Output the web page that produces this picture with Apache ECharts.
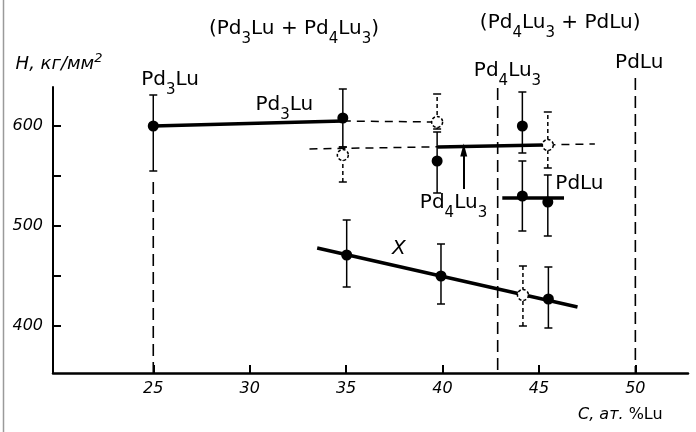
<!DOCTYPE html>
<html><head><meta charset="utf-8">
<script src="https://cdn.jsdelivr.net/npm/echarts@6/dist/echarts.min.js"></script>
<style>html,body{margin:0;padding:0;background:#fff}#c{width:696px;height:432px}</style>
</head><body><div id="c"></div>
<script>
const FONT = 'DejaVu Sans';
// axis ticks
const xTicks = [25, 30, 35, 40, 45, 50];
const yTicks = [400, 450, 500, 550, 600];
const yLabels = [400, 500, 600];

// filled points (Pd3Lu, Pd4Lu3, PdLu region)
const solidX = [25, 34.83, 39.72, 44.14, 44.14, 45.46];
const solidY = [600, 608, 565, 600, 530, 524];
const solidLow = [555, 579, 533, 573, 495, 490];
const solidHigh = [631, 637, 594, 634, 565, 551];
// X phase filled points
const chiX = [35.03, 39.92, 45.49];
const chiY = [471, 450, 427];
const chiLow = [439, 422, 398];
const chiHigh = [506, 482, 459];
// open (dashed) points
const openX = [34.83, 39.72, 45.46, 44.17];
const openY = [571, 604, 581, 431];
const openLow = [544, 597, 558, 400];
const openHigh = [579, 632, 614, 460];

// fitted lines
const pd3luLine = [[25, 600], [34.83, 605]];
const pd4lu3Line = [[39.75, 579], [45.2, 581]];
const pdluLine = [[43.1, 528], [46.3, 528]];
const chiLine = [[33.5, 478], [47.0, 419]];
const dashedUpper = [[34.83, 605], [39.72, 604]];
const dashedLower = [[33.1, 577], [47.9, 582]];
// phase boundaries (composition, top of dashed line)
const phaseX = [25, 42.86, 50];
const phaseTop = [544, 638, 648];
const phaseBottom = 353;
// arrow
const arrowX = 41.1, arrowFrom = 537, arrowTo = 576;

// annotations
const labelText = [
  '(Pd{s|3}Lu + Pd{s|4}Lu{s|3})',
  '(Pd{s|4}Lu{s|3} + PdLu)',
  'Pd{s|3}Lu',
  'Pd{s|3}Lu',
  'Pd{s|4}Lu{s|3}',
  'PdLu',
  'Pd{s|4}Lu{s|3}',
  'PdLu',
  '{i|X}'
];
const labelX = [32.3, 46.1, 25.87, 31.8, 43.37, 50.2, 40.57, 47.1, 37.74];
const labelY = [697, 703, 646, 621, 655, 663, 523, 542, 477];

const rich = {
  s: {fontFamily: FONT, fontSize: 15, color: '#000', padding: [20, 0, 0, 0], lineHeight: 15},
  i: {fontFamily: FONT, fontSize: 20, fontStyle: 'italic', color: '#000'}
};

function zip(a, b) { return a.map((v, i) => [v, b[i]]); }
function zip3(a, b, c) { return a.map((v, i) => [v, b[i], c[i]]); }

function errRender(dashed) {
  return function (params, api) {
    const x = api.value(0), lo = api.value(1), hi = api.value(2);
    const pLo = api.coord([x, lo]), pHi = api.coord([x, hi]);
    const hw = 4;
    const st = {stroke: '#000', lineWidth: 1.5, fill: null, lineDash: dashed ? [4, 3] : null};
    const cap = {stroke: '#000', lineWidth: 1.5, fill: null};
    return {type: 'group', children: [
      {type: 'line', shape: {x1: pLo[0], y1: pLo[1], x2: pHi[0], y2: pHi[1]}, style: st},
      {type: 'line', shape: {x1: pLo[0] - hw, y1: pLo[1], x2: pLo[0] + hw, y2: pLo[1]}, style: cap},
      {type: 'line', shape: {x1: pHi[0] - hw, y1: pHi[1], x2: pHi[0] + hw, y2: pHi[1]}, style: cap}
    ]};
  };
}

function lineSeries(data, width, dash, z, clip) {
  return {type: 'line', data: data, symbol: 'none', showSymbol: false, silent: true,
    clip: clip !== false, z: z,
    lineStyle: {color: '#000', width: width, type: dash || 'solid'}};
}

const series = [];
// phase boundary dashed lines
phaseX.forEach((px, i) => {
  series.push(lineSeries([[px, phaseTop[i]], [px, phaseBottom]], 1.6, [12, 6], 1, false));
});
series.push(lineSeries(dashedUpper, 1.5, [8, 6], 2));
series.push(lineSeries(dashedLower, 1.5, [8, 6], 2));
series.push(lineSeries(pd3luLine, 3.5, null, 3));
series.push(lineSeries(pd4lu3Line, 3.5, null, 3));
series.push(lineSeries(pdluLine, 3.5, null, 3));
series.push(lineSeries(chiLine, 3.5, null, 3));
// error bars
series.push({type: 'custom', renderItem: errRender(true), data: zip3(openX, openLow, openHigh), z: 4, silent: true, encode: {x: 0, y: [1, 2]}});
series.push({type: 'custom', renderItem: errRender(false), data: zip3(solidX.concat(chiX), solidLow.concat(chiLow), solidHigh.concat(chiHigh)), z: 5, silent: true, encode: {x: 0, y: [1, 2]}});
// open points
series.push({type: 'scatter', data: zip(openX, openY), symbol: 'circle', symbolSize: 11, z: 6, silent: true,
  itemStyle: {color: '#fff', opacity: 1, borderColor: '#000', borderWidth: 1.5, borderType: [3, 2]}});
// filled points
series.push({type: 'scatter', data: zip(solidX.concat(chiX), solidY.concat(chiY)), symbol: 'circle', symbolSize: 11, z: 7, silent: true,
  itemStyle: {color: '#000', opacity: 1}});
// arrow
series.push({type: 'line', data: [], silent: true, z: 7,
  markLine: {silent: true, symbol: ['none', 'triangle'], symbolSize: [7, 13], label: {show: false},
    lineStyle: {color: '#000', width: 2, type: 'solid', opacity: 1},
    data: [[{coord: [arrowX, arrowFrom]}, {coord: [arrowX, arrowTo]}]]}});
// annotations
series.push({type: 'scatter', symbolSize: 1, clip: false, silent: true, z: 8,
  itemStyle: {color: 'rgba(255,255,255,0)', opacity: 1},
  data: labelText.map((t, i) => ({value: [labelX[i], labelY[i]], name: t})),
  label: {show: true, position: 'inside', formatter: p => p.name, opacity: 1,
    fontFamily: FONT, fontSize: 20, color: '#000', rich: rich}});

const chart = echarts.init(document.getElementById('c'), null, {renderer: 'canvas'});
chart.setOption({
  animation: false,
  backgroundColor: '#fff',
  grid: {left: 53, right: 8, top: 87, bottom: 59, containLabel: false, outerBoundsMode: 'none'},
  xAxis: {
    type: 'value', min: 19.8, max: 52.73,
    name: '{i|C, ат.} %Lu', nameLocation: 'end', nameGap: -110,
    nameTextStyle: {fontFamily: FONT, fontSize: 16, color: '#000', padding: [84, 0, 0, 0],
      rich: {i: {fontFamily: FONT, fontSize: 16, fontStyle: 'italic', color: '#000'}}},
    axisLine: {show: true, lineStyle: {color: '#000', width: 2.5}},
    axisTick: {show: true, inside: true, length: 8, customValues: xTicks, lineStyle: {color: '#000', width: 2}},
    axisLabel: {customValues: xTicks, fontFamily: FONT, fontStyle: 'italic', fontSize: 16, color: '#000', margin: 8},
    splitLine: {show: false}
  },
  yAxis: {
    type: 'value', min: 353, max: 639,
    name: 'H, кг/мм{p|2}', nameLocation: 'end', nameGap: 10,
    nameTextStyle: {fontFamily: FONT, fontSize: 18, fontStyle: 'italic', color: '#000', padding: [0, 0, 0, 12],
      rich: {p: {fontFamily: FONT, fontSize: 13, fontStyle: 'italic', color: '#000', padding: [0, 0, 12, 0]}}},
    axisLine: {show: true, lineStyle: {color: '#000', width: 2}},
    axisTick: {show: true, inside: true, length: 8, customValues: yTicks, lineStyle: {color: '#000', width: 2}},
    axisLabel: {customValues: yLabels, fontFamily: FONT, fontStyle: 'italic', fontSize: 16, color: '#000', margin: 10},
    splitLine: {show: false}
  },
  graphic: [{type: 'line', shape: {x1: 3.5, y1: 0, x2: 3.5, y2: 432}, style: {stroke: '#9a9a9a', lineWidth: 1.5}, silent: true}],
  series: series
});
</script></body></html>
